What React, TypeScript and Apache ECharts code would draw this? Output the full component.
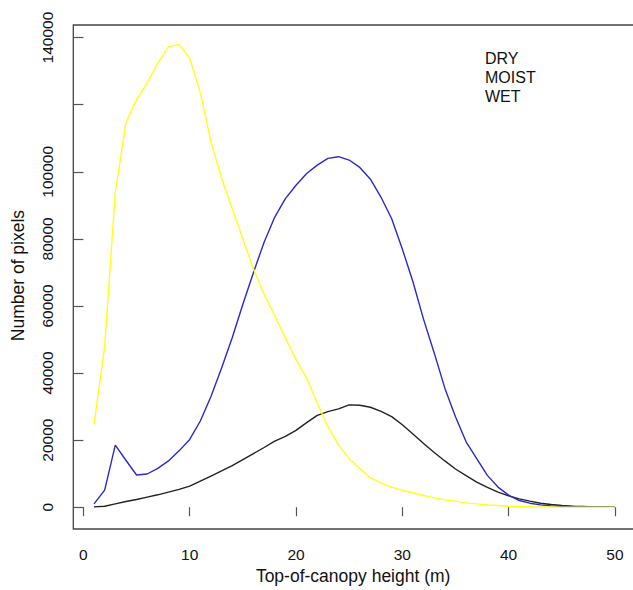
import React, { useEffect, useRef } from "react";
import * as echarts from "echarts";

const heights = [1,2,3,4,5,6,7,8,9,10,11,12,13,14,15,16,17,18,19,20,21,22,23,24,25,26,27,28,29,30,31,32,33,34,35,36,37,38,39,40,41,42,43,44,45,46,47,48,49,50];

const dryValues = [24700,47900,93900,114600,121500,126500,132400,137300,138000,133900,123500,109000,98000,89000,80000,71000,63500,57000,50500,44000,38500,31000,24000,18500,14500,11500,8800,7200,6000,5000,4300,3500,2800,2200,1800,1300,1000,700,500,300,200,150,100,50,0,0,0,0,0,0];

const moistValues = [1000,5100,18500,14000,9600,9900,11600,13800,16800,20200,25700,33000,41500,50500,60500,70000,79000,86500,92000,96000,99500,102000,104000,104500,103500,101300,97800,92400,86000,77000,67200,56000,46000,35500,27000,19500,14500,9500,6000,3600,2000,1200,700,400,300,200,100,100,50,0];

const wetValues = [100,300,1000,1700,2300,3000,3700,4500,5300,6300,7800,9300,10800,12400,14200,16000,17800,19700,21100,22900,25200,27400,28500,29300,30500,30400,29800,28600,27000,24600,21800,19000,16300,13800,11400,9400,7500,5900,4500,3400,2500,1800,1200,800,500,300,200,100,50,0];

const seriesNames = ["DRY", "MOIST", "WET"];
const seriesColors = ["#ffff1a", "#2a2ac8", "#222222"];
const xTicks = [0, 10, 20, 30, 40, 50];
const yTicks = [0, 20000, 40000, 60000, 80000, 100000, 120000, 140000];
const yLabels = [0, 20000, 40000, 60000, 80000, 100000, 140000];

const FONT = "'Liberation Sans', Arial, Helvetica, sans-serif";

export default function App() {
  const ref = useRef<HTMLDivElement>(null);
  useEffect(() => {
    if (!ref.current) return;
    document.body.style.margin = "0";
    document.body.style.overflow = "hidden";
    const chart = echarts.init(ref.current, undefined, { renderer: "svg" });
    const all = [dryValues, moistValues, wetValues];
    chart.setOption({
      animation: false,
      backgroundColor: "#ffffff",
      textStyle: { fontFamily: FONT },
      grid: {
        left: 73.3,
        right: 0,
        top: 25,
        bottom: 61,
        containLabel: false,
        show: false,
      },
      graphic: [
        {
          type: "polyline",
          shape: { points: [[633, 25], [73.3, 25], [73.3, 529], [633, 529]] },
          style: { fill: "none", stroke: "#444", lineWidth: 1.3 },
          silent: true,
          z: 10,
        },
      ],
      legend: {
        data: seriesNames,
        orient: "vertical",
        left: 475,
        top: 45,
        icon: "none",
        itemWidth: 0,
        itemHeight: 0,
        itemGap: 3,
        selectedMode: false,
        textStyle: { color: "#111", fontSize: 16, fontFamily: FONT },
      },
      xAxis: {
        type: "value",
        min: -0.95,
        max: 51.70,
        axisLine: { show: false },
        axisTick: {
          show: true,
          length: 9,
          customValues: xTicks,
          lineStyle: { color: "#555", width: 1.2 },
        },
        splitLine: { show: false },
        axisLabel: {
          customValues: xTicks,
          margin: 20,
          fontSize: 15.5,
          color: "#111",
          fontFamily: FONT,
          formatter: (v: number) => String(v),
        },
        name: "Top-of-canopy height (m)",
        nameLocation: "middle",
        nameGap: 39,
        nameTextStyle: { fontSize: 17.5, color: "#111", fontFamily: FONT },
      },
      yAxis: {
        type: "value",
        min: -5630,
        max: 143760,
        axisLine: { show: false },
        axisTick: {
          show: true,
          length: 10,
          customValues: yTicks,
          lineStyle: { color: "#555", width: 1.2 },
        },
        splitLine: { show: false },
        axisLabel: {
          customValues: yLabels,
          rotate: 90,
          margin: 18,
          fontSize: 15.5,
          color: "#111",
          fontFamily: FONT,
          formatter: (v: number) => String(Math.round(v)),
        },
        name: "Number of pixels",
        nameLocation: "middle",
        nameRotate: 90,
        nameGap: 46,
        nameTextStyle: { fontSize: 17.5, color: "#111", fontFamily: FONT },
      },
      series: all.map((vals, i) => ({
        name: seriesNames[i],
        type: "line",
        data: heights.map((h, j) => [h, vals[j]]),
        showSymbol: false,
        symbol: "none",
        lineStyle: { color: seriesColors[i], width: 1.4 },
        itemStyle: { color: seriesColors[i] },
        z: 3 - i,
      })),
    });
    return () => chart.dispose();
  }, []);
  return (
    <div
      ref={ref}
      style={{ width: 633, height: 590, position: "absolute", left: 0, top: 0 }}
    />
  );
}
